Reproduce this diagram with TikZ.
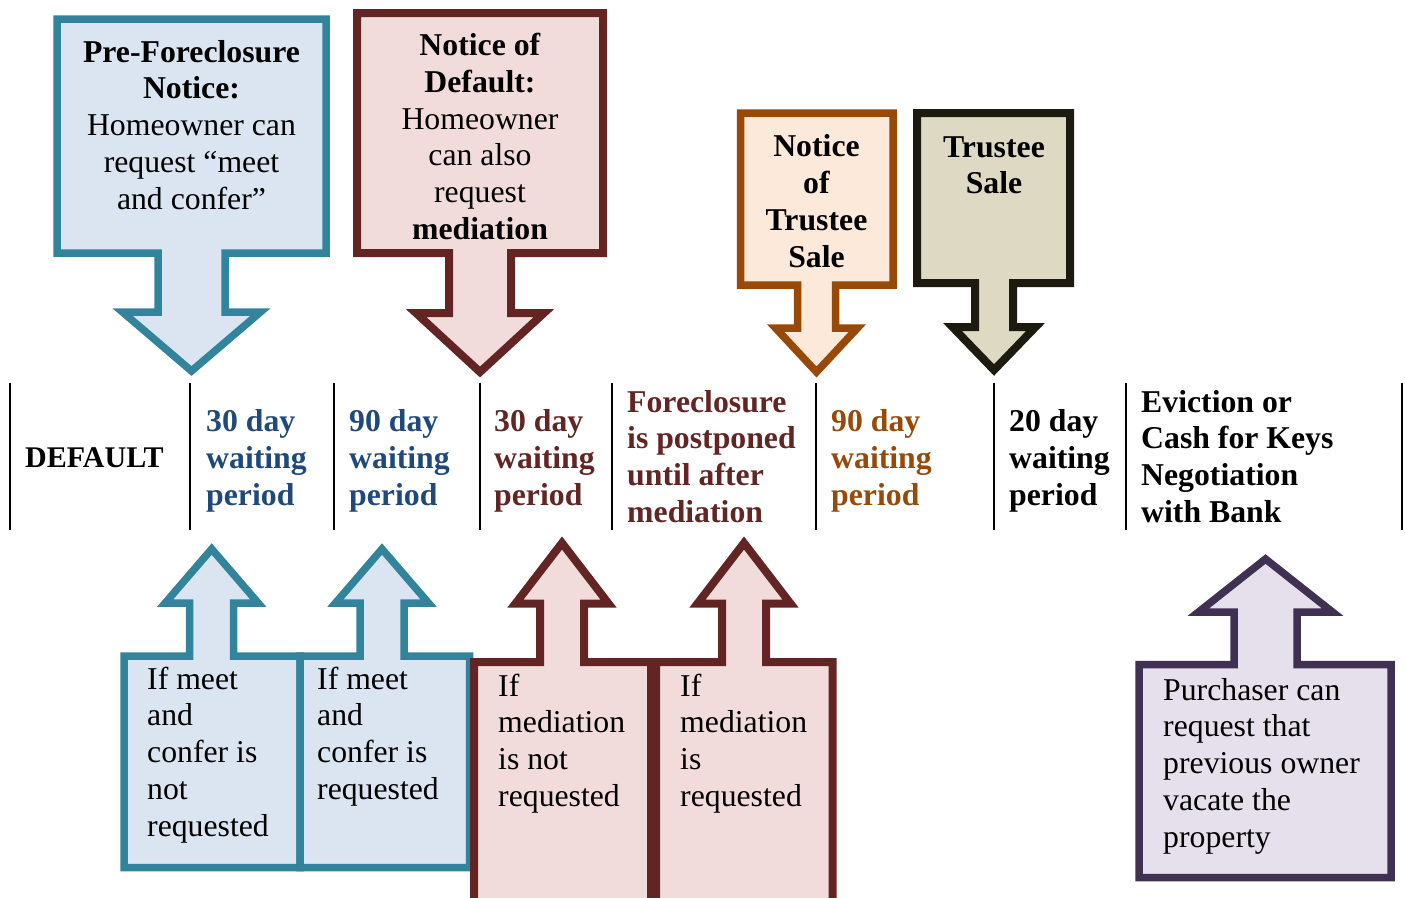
\documentclass[tikz,border=0pt]{standalone}
\usepackage{fontspec}
\setmainfont{Liberation Serif}
\definecolor{sblue}{HTML}{31849B}
\definecolor{fblue}{HTML}{DBE5F1}
\definecolor{sred}{HTML}{632523}
\definecolor{fred}{HTML}{F2DCDB}
\definecolor{sorange}{HTML}{984807}
\definecolor{forange}{HTML}{FDE9D9}
\definecolor{sblack}{HTML}{1D1B11}
\definecolor{fblack}{HTML}{DDD9C3}
\definecolor{spurple}{HTML}{403152}
\definecolor{fpurple}{HTML}{E5E0EC}
\definecolor{tblue}{HTML}{1F497D}
\newcommand\txtfont{\fontsize{31.75}{36.8}\selectfont}
\newcommand\smfont{\fontsize{30}{36.8}\selectfont}
\newcommand\lines[2]{\begin{tabular}[t]{@{}#1@{}}#2\end{tabular}}
% down arrow box: L T R B cx s Hy h Ty
\newcommand\myDown[9]{%
  \draw[arrowbox] (#1,#2) -- (#3,#2) -- (#3,#4) -- ({#5+#6},#4) -- ({#5+#6},#7)
    -- ({#5+#8},#7) -- (#5,#9) -- ({#5-#8},#7) -- ({#5-#6},#7) -- ({#5-#6},#4)
    -- (#1,#4) -- cycle;}
% up arrow box: L T R B cx s Hy h Ty
\newcommand\myUp[9]{%
  \draw[arrowbox] (#1,#4) -- (#3,#4) -- (#3,#2) -- ({#5+#6},#2) -- ({#5+#6},#7)
    -- ({#5+#8},#7) -- (#5,#9) -- ({#5-#8},#7) -- ({#5-#6},#7) -- ({#5-#6},#2)
    -- (#1,#2) -- cycle;}
\tikzset{
  lbl/.style={inner sep=0pt, font=\txtfont, anchor=base west},
  clbl/.style={inner sep=0pt, font=\txtfont, anchor=base},
  tick/.style={line width=2.5pt, black},
}
\begin{document}
\begin{tikzpicture}[x=1pt,y=-1pt,line join=miter]
\useasboundingbox (0,0) rectangle (1405,897);
\clip (0,0) rectangle (1405,897);

% top arrows
\begin{scope}[arrowbox/.style={draw=sblue,fill=fblue,line width=7.5pt}]
  \myDown{57}{19}{326}{253}{191.5}{33.5}{312}{69}{371}
\end{scope}
\begin{scope}[arrowbox/.style={draw=sred,fill=fred,line width=8pt}]
  \myDown{357}{13}{603}{253}{480}{31}{313}{64}{372}
\end{scope}
\begin{scope}[arrowbox/.style={draw=sorange,fill=forange,line width=7.5pt}]
  \myDown{740.5}{113}{893}{285}{816.5}{19}{328}{41}{372}
\end{scope}
\begin{scope}[arrowbox/.style={draw=sblack,fill=fblack,line width=8pt}]
  \myDown{917}{113}{1070}{283}{994}{19}{327}{41.5}{370}
\end{scope}

% bottom arrows
\begin{scope}[arrowbox/.style={draw=sblue,fill=fblue,line width=7.5pt}]
  \myUp{124}{656}{300}{867.5}{211.7}{22}{603}{46.5}{549}
  \myUp{300}{656}{469.5}{867.5}{382}{22}{603}{46.5}{549}
\end{scope}
\begin{scope}[arrowbox/.style={draw=sred,fill=fred,line width=8pt}]
  \myUp{474}{662}{651}{915}{562}{22}{603.5}{46.5}{543}
  \myUp{656}{662}{832.5}{915}{744}{22}{603.5}{46.5}{543}
\end{scope}
\begin{scope}[arrowbox/.style={draw=spurple,fill=fpurple,line width=7.5pt}]
  \myUp{1139}{664.5}{1391}{877.5}{1265.5}{31.5}{612}{67}{559}
\end{scope}

% timeline separators
\foreach \tx in {10,190,334,480,612,816,994,1126,1402}
  \draw[tick] (\tx,383) -- (\tx,530);

% top texts
\node[clbl] (pfn) at (191.5,62) {\lines{c}{\textbf{Pre-Foreclosure}\\ \textbf{Notice:}\\ Homeowner can\\ request “meet\\ and confer”}};
\node[clbl] (nod) at (480,55.5) {\lines{c}{\textbf{Notice of}\\ \textbf{Default:}\\ Homeowner\\ can also\\ request\\ \textbf{mediation}}};
\node[clbl] (nots) at (816.5,156.7) {\lines{c}{\textbf{Notice}\\ \textbf{of}\\ \textbf{Trustee}\\ \textbf{Sale}}};
\node[clbl] (ts) at (994,157) {\lines{c}{\textbf{Trustee}\\ \textbf{Sale}}};

% timeline texts
\node[lbl, font=\smfont] (def) at (25,467) {\textbf{DEFAULT}};
\node[lbl, text=tblue] (w30a) at (206,431.5) {\lines{l}{\textbf{30 day}\\ \textbf{waiting}\\ \textbf{period}}};
\node[lbl, text=tblue] (w90a) at (349,431.5) {\lines{l}{\textbf{90 day}\\ \textbf{waiting}\\ \textbf{period}}};
\node[lbl, text=sred] (w30b) at (494,431.5) {\lines{l}{\textbf{30 day}\\ \textbf{waiting}\\ \textbf{period}}};
\node[lbl, text=sred] (fcp) at (627,412) {\lines{l}{\textbf{Foreclosure}\\ \textbf{is postponed}\\ \textbf{until after}\\ \textbf{mediation}}};
\node[lbl, text=sorange] (w90b) at (831,431.5) {\lines{l}{\textbf{90 day}\\ \textbf{waiting}\\ \textbf{period}}};
\node[lbl] (w20) at (1009,431.5) {\lines{l}{\textbf{20 day}\\ \textbf{waiting}\\ \textbf{period}}};
\node[lbl] (evc) at (1141,412) {\lines{l}{\textbf{Eviction or}\\ \textbf{Cash for Keys}\\ \textbf{Negotiation}\\ \textbf{with Bank}}};

% bottom texts
\node[lbl] (mcn) at (147,689) {\lines{l}{If meet\\ and\\ confer is\\ not\\ requested}};
\node[lbl] (mcr) at (317,689) {\lines{l}{If meet\\ and\\ confer is\\ requested}};
\node[lbl] (mdn) at (498,696) {\lines{l}{If\\ mediation\\ is not\\ requested}};
\node[lbl] (mdr) at (680,696) {\lines{l}{If\\ mediation\\ is\\ requested}};
\node[lbl] (pur) at (1163,700) {\lines{l}{Purchaser can\\ request that\\ previous owner\\ vacate the\\ property}};
\end{tikzpicture}
\end{document}
